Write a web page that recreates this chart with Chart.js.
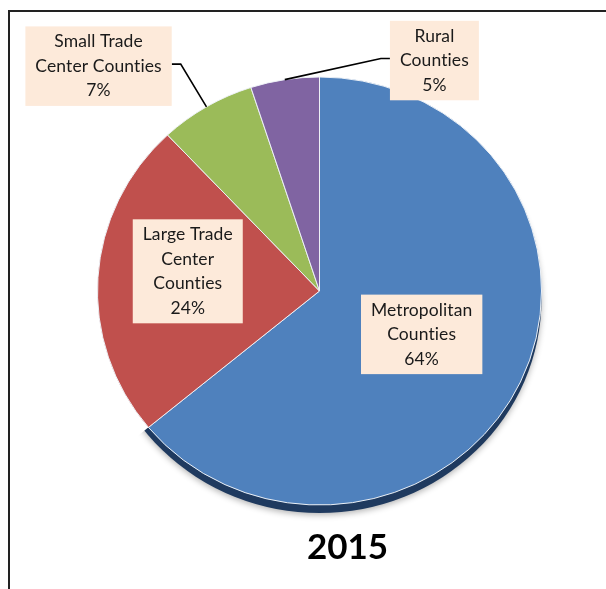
<!DOCTYPE html>
<html>
<head>
<meta charset="utf-8">
<script src="https://cdn.jsdelivr.net/npm/chart.js@4"></script>
<style>
  body { margin: 0; background: #fff; }
  canvas { display: block; }
</style>
</head>
<body>
<canvas id="myChart" width="606" height="589"></canvas>
<script>
let categories = ["Metropolitan Counties", "Large Trade Center Counties", "Small Trade Center Counties", "Rural Counties"];
let shares = [64, 24, 7, 5];
let labelLines = [
    ["Metropolitan", "Counties"],
    ["Large Trade", "Center", "Counties"],
    ["Small Trade", "Center Counties"],
    ["Rural", "Counties"]
];
let sliceColors = ["#4f81bd", "#c0504d", "#9bbb59", "#8064a2"];
let yearLabel = "2015";

// label box placement around the pie centre: angle in degrees (clockwise from 3 o'clock),
// distance as a multiple of the radius; small slices get a leader line
let labelSpots = [
    {angle: 23, dist: 0.5, leader: false},
    {angle: 188.5, dist: 0.6, leader: false},
    {angle: 225.5, dist: 1.42, leader: true},
    {angle: 296.5, dist: 1.16, leader: true}
];

const FONT = "Lato, 'Open Sans', sans-serif";
const TILT = 0.964;   // squash the pie vertically a little
const RIM = 8;        // thickness of the dark edge under the pie

// outer frame of the figure
const frame = {
    id: "frame",
    beforeDraw(chart) {
        let ctx = chart.ctx;
        ctx.save();
        ctx.strokeStyle = "#222";
        ctx.lineWidth = 2;
        ctx.strokeRect(9, 11, 700, 700);
        ctx.restore();
    }
};

// tilted pie with a dark edge under the big slice to give some depth
const pieRim = {
    id: "pieRim",
    beforeDatasetsDraw(chart) {
        let arc = chart.getDatasetMeta(0).data[0];
        if (!arc) return;
        let ctx = chart.ctx;
        ctx.save();
        ctx.translate(arc.x, arc.y);
        ctx.scale(1, TILT);
        ctx.translate(-arc.x, -arc.y);

        ctx.save();
        ctx.beginPath();
        ctx.moveTo(arc.x, arc.y);
        ctx.arc(arc.x, arc.y, arc.outerRadius * 2, arc.startAngle, arc.endAngle);
        ctx.closePath();
        ctx.clip();
        ctx.shadowColor = "rgba(0,0,0,0.3)";
        ctx.shadowBlur = 6;
        ctx.shadowOffsetY = 2;
        ctx.fillStyle = "#1f3a5f";
        ctx.beginPath();
        ctx.arc(arc.x, arc.y + RIM / TILT, arc.outerRadius, 0, Math.PI * 2);
        ctx.fill();
        ctx.restore();
    },
    afterDatasetsDraw(chart) {
        chart.ctx.restore();
    }
};

// peach label boxes with category name and percentage
const sliceLabels = {
    id: "sliceLabels",
    afterDatasetsDraw(chart) {
        let arcs = chart.getDatasetMeta(0).data;
        let ctx = chart.ctx;
        let lineH = 24.5;
        ctx.save();
        ctx.font = "17.5px " + FONT;
        ctx.letterSpacing = "0.1px";
        ctx.textAlign = "center";
        ctx.textBaseline = "middle";
        arcs.forEach((arc, i) => {
            let spot = labelSpots[i];
            let r = arc.outerRadius;
            let a = spot.angle * Math.PI / 180;
            let bx = arc.x + Math.cos(a) * r * spot.dist;
            let by = arc.y + Math.sin(a) * r * spot.dist;
            let lines = labelLines[i].concat([shares[i] + "%"]);
            let w = Math.max(...lines.map(t => ctx.measureText(t).width)) + 20;
            let h = lines.length * lineH + 6;

            if (spot.leader) {
                let mid = (arc.startAngle + arc.endAngle) / 2;
                let ex = arc.x + Math.cos(mid) * r;
                let ey = arc.y + Math.sin(mid) * r * TILT;
                let side = ex > bx ? 1 : -1;
                let sx = bx + side * w / 2;
                ctx.strokeStyle = "#000";
                ctx.lineWidth = 1.6;
                ctx.beginPath();
                ctx.moveTo(ex, ey);
                ctx.lineTo(sx + side * 9, by - 2);
                ctx.lineTo(sx, by - 2);
                ctx.stroke();
            }

            ctx.fillStyle = "#fdeada";
            ctx.fillRect(bx - w / 2, by - h / 2, w, h);
            ctx.fillStyle = "#1a1a1a";
            lines.forEach((t, k) => {
                ctx.fillText(t, bx, by - h / 2 + 3 + lineH * (k + 0.5));
            });
        });
        ctx.restore();
    }
};

// year caption under the pie
const yearCaption = {
    id: "yearCaption",
    afterDraw(chart) {
        let arc = chart.getDatasetMeta(0).data[0];
        let ctx = chart.ctx;
        ctx.save();
        ctx.font = "bold 35px " + FONT;
        ctx.fillStyle = "#000";
        ctx.textAlign = "center";
        ctx.textBaseline = "middle";
        ctx.fillText(yearLabel, arc.x + 28, 548);
        ctx.restore();
    }
};

new Chart("myChart", {
    type: "pie",
    data: {
        labels: categories,
        datasets: [{
            data: shares,
            backgroundColor: sliceColors,
            borderColor: "#eef2f7",
            borderWidth: 1
        }]
    },
    options: {
        responsive: false,
        animation: false,
        layout: {
            padding: {left: 97, right: 64, top: 68, bottom: 75}
        },
        plugins: {
            legend: {display: false},
            tooltip: {enabled: false},
            title: {display: false}
        }
    },
    plugins: [frame, pieRim, sliceLabels, yearCaption]
});
</script>
</body>
</html>
